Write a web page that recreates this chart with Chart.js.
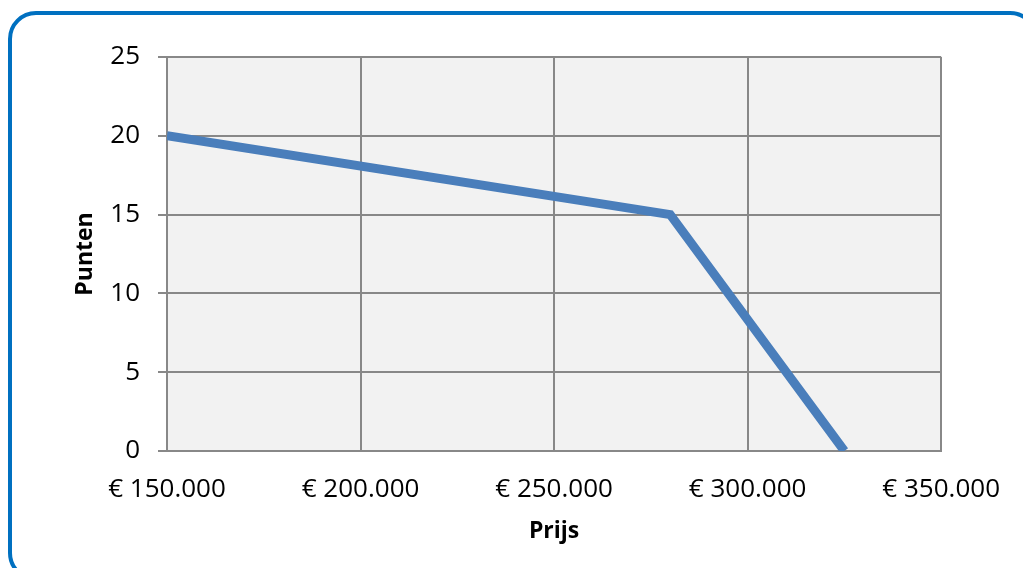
<!DOCTYPE html>
<html>
<head>
<meta charset="utf-8">
<script src="https://cdn.jsdelivr.net/npm/chart.js@4/dist/chart.umd.min.js"></script>
<style>
    body { margin: 0; width: 1023px; height: 568px; overflow: hidden; background: #fff; position: relative; }
    #frame { position: absolute; left: 8px; top: 11px; width: 1030px; height: 570px; border: 4px solid #0070c0; border-radius: 28px; box-sizing: border-box; }
    #chart { position: absolute; left: 0; top: 0; }
</style>
</head>
<body>
<div id="frame"></div>
<canvas id="chart" width="1023" height="568"></canvas>
<script>
// Data
const prijs = [150000, 280000, 325000];
const punten = [20, 15, 0];
const xMin = 150000, xMax = 350000, xStep = 50000;
const yMin = 0, yMax = 25, yStep = 5;

function euro(v) {
    return '€ ' + String(v).replace(/\B(?=(\d{3})+(?!\d))/g, '.');
}

// grey plot background
const plotBg = {
    id: 'plotBg',
    beforeDraw(chart) {
        const a = chart.chartArea;
        const ctx = chart.ctx;
        ctx.save();
        ctx.fillStyle = '#f2f2f2';
        ctx.fillRect(a.left, a.top, a.right - a.left, a.bottom - a.top);
        ctx.restore();
    }
};

Chart.defaults.font.family = '"Open Sans", sans-serif';
Chart.defaults.color = '#000';

const ctx = document.getElementById('chart').getContext('2d');
new Chart(ctx, {
    type: 'line',
    data: {
        datasets: [{
            data: prijs.map((p, i) => ({ x: p, y: punten[i] })),
            borderColor: '#4a7ebb',
            borderWidth: 9,
            pointRadius: 0,
            tension: 0,
            fill: false
        }]
    },
    options: {
        responsive: false,
        animation: false,
        layout: { padding: { left: 68, top: 57, right: 78, bottom: 19 } },
        plugins: { legend: { display: false }, tooltip: { enabled: false } },
        scales: {
            x: {
                type: 'linear',
                min: xMin,
                max: xMax,
                afterFit(scale) { scale.height = 98; },
                ticks: {
                    stepSize: xStep,
                    padding: 23,
                    maxRotation: 0,
                    font: { size: 26 },
                    callback: v => euro(v)
                },
                grid: { color: '#888', lineWidth: 2, drawTicks: false },
                border: { color: '#888', width: 2 },
                title: { display: true, text: 'Prijs', font: { size: 23, weight: 'bold' } }
            },
            y: {
                min: yMin,
                max: yMax,
                afterFit(scale) { scale.width = 99; },
                ticks: { stepSize: yStep, padding: 18, font: { size: 26 } },
                grid: { color: '#888', lineWidth: 2, tickLength: 9 },
                border: { color: '#888', width: 2 },
                title: { display: true, text: 'Punten', font: { size: 23, weight: 'bold' } }
            }
        }
    },
    plugins: [plotBg]
});
</script>
</body>
</html>
